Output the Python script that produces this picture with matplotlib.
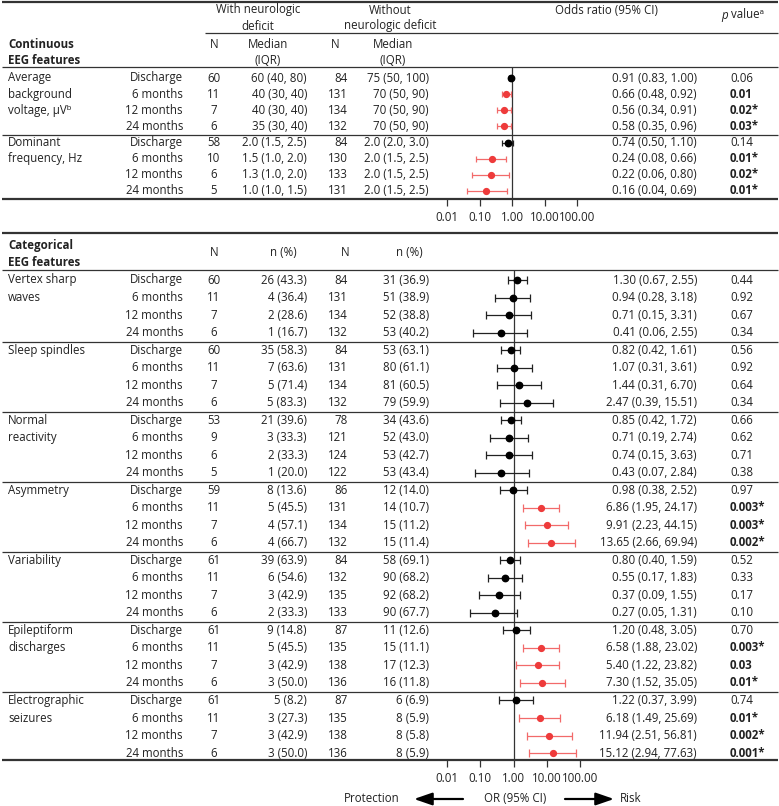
import matplotlib
matplotlib.use("Agg")
import matplotlib.pyplot as plt
import numpy as np

plt.rcParams['font.family'] = ['Open Sans', 'DejaVu Sans']
FS = 8.3
TXT = '#222222'
RED = '#EE3B3B'
RED_BAR = '#F26A6A'

# ---------------- data ----------------
time_labels = ["Discharge", "6 months", "12 months", "24 months"]

cont_features = [["Average", "background", "voltage, μVᵇ"], ["Dominant", "frequency, Hz"]]
cont_n_with = [[60, 11, 7, 6], [58, 10, 6, 5]]
cont_med_with = [["60 (40, 80)", "40 (30, 40)", "40 (30, 40)", "35 (30, 40)"],
                 ["2.0 (1.5, 2.5)", "1.5 (1.0, 2.0)", "1.3 (1.0, 2.0)", "1.0 (1.0, 1.5)"]]
cont_n_without = [[84, 131, 134, 132], [84, 130, 133, 131]]
cont_med_without = [["75 (50, 100)", "70 (50, 90)", "70 (50, 90)", "70 (50, 90)"],
                    ["2.0 (2.0, 3.0)", "2.0 (1.5, 2.5)", "2.0 (1.5, 2.5)", "2.0 (1.5, 2.5)"]]
cont_or = [[0.91, 0.66, 0.56, 0.58], [0.74, 0.24, 0.22, 0.16]]
cont_lo = [[0.83, 0.48, 0.34, 0.35], [0.50, 0.08, 0.06, 0.04]]
cont_hi = [[1.00, 0.92, 0.91, 0.96], [1.10, 0.66, 0.80, 0.69]]
cont_p = [["0.06", "0.01", "0.02*", "0.03*"], ["0.14", "0.01*", "0.02*", "0.01*"]]
cont_sig = [[False, True, True, True], [False, True, True, True]]

cat_features = [["Vertex sharp", "waves"], ["Sleep spindles"], ["Normal", "reactivity"],
                ["Asymmetry"], ["Variability"], ["Epileptiform", "discharges"],
                ["Electrographic", "seizures"]]
cat_n_with = [[60, 11, 7, 6], [60, 11, 7, 6], [53, 9, 6, 5], [59, 11, 7, 6],
              [61, 11, 7, 6], [61, 11, 7, 6], [61, 11, 7, 6]]
cat_pct_with = [["26 (43.3)", "4 (36.4)", "2 (28.6)", "1 (16.7)"],
                ["35 (58.3)", "7 (63.6)", "5 (71.4)", "5 (83.3)"],
                ["21 (39.6)", "3 (33.3)", "2 (33.3)", "1 (20.0)"],
                ["8 (13.6)", "5 (45.5)", "4 (57.1)", "4 (66.7)"],
                ["39 (63.9)", "6 (54.6)", "3 (42.9)", "2 (33.3)"],
                ["9 (14.8)", "5 (45.5)", "3 (42.9)", "3 (50.0)"],
                ["5 (8.2)", "3 (27.3)", "3 (42.9)", "3 (50.0)"]]
cat_n_without = [[84, 131, 134, 132], [84, 131, 134, 132], [78, 121, 124, 122],
                 [86, 131, 134, 132], [84, 132, 135, 133], [87, 135, 138, 136],
                 [87, 135, 138, 136]]
cat_pct_without = [["31 (36.9)", "51 (38.9)", "52 (38.8)", "53 (40.2)"],
                   ["53 (63.1)", "80 (61.1)", "81 (60.5)", "79 (59.9)"],
                   ["34 (43.6)", "52 (43.0)", "53 (42.7)", "53 (43.4)"],
                   ["12 (14.0)", "14 (10.7)", "15 (11.2)", "15 (11.4)"],
                   ["58 (69.1)", "90 (68.2)", "92 (68.2)", "90 (67.7)"],
                   ["11 (12.6)", "15 (11.1)", "17 (12.3)", "16 (11.8)"],
                   ["6 (6.9)", "8 (5.9)", "8 (5.8)", "8 (5.9)"]]
cat_or = [[1.30, 0.94, 0.71, 0.41], [0.82, 1.07, 1.44, 2.47], [0.85, 0.71, 0.74, 0.43],
          [0.98, 6.86, 9.91, 13.65], [0.80, 0.55, 0.37, 0.27], [1.20, 6.58, 5.40, 7.30],
          [1.22, 6.18, 11.94, 15.12]]
cat_lo = [[0.67, 0.28, 0.15, 0.06], [0.42, 0.31, 0.31, 0.39], [0.42, 0.19, 0.15, 0.07],
          [0.38, 1.95, 2.23, 2.66], [0.40, 0.17, 0.09, 0.05], [0.48, 1.88, 1.22, 1.52],
          [0.37, 1.49, 2.51, 2.94]]
cat_hi = [[2.55, 3.18, 3.31, 2.55], [1.61, 3.61, 6.70, 15.51], [1.72, 2.74, 3.63, 2.84],
          [2.52, 24.17, 44.15, 69.94], [1.59, 1.83, 1.55, 1.31], [3.05, 23.02, 23.82, 35.05],
          [3.99, 25.69, 56.81, 77.63]]
cat_p = [["0.44", "0.92", "0.67", "0.34"], ["0.56", "0.92", "0.64", "0.34"],
         ["0.66", "0.62", "0.71", "0.38"], ["0.97", "0.003*", "0.003*", "0.002*"],
         ["0.52", "0.33", "0.17", "0.10"], ["0.70", "0.003*", "0.03", "0.01*"],
         ["0.74", "0.01*", "0.002*", "0.001*"]]
cat_sig = [[False] * 4, [False] * 4, [False] * 4, [False, True, True, True],
           [False] * 4, [False, True, True, True], [False, True, True, True]]

tick_vals = [0.01, 0.1, 1, 10, 100]
tick_labels = ["0.01", "0.10", "1.00", "10.00", "100.00"]

# ---------------- layout (pixels) ----------------
W, H = 779, 806
fig = plt.figure(figsize=(W / 100, H / 100), dpi=100)
ax = fig.add_axes([0, 0, 1, 1])
ax.set_xlim(0, W)
ax.set_ylim(H, 0)
ax.axis('off')

X_LABEL = 8
X_TIME = 183
X_NW = 214
X_MW = 307
X_NWO = 348
X_MWO = 429
X_OR = 697
X_P = 730
LINE_C = '#333333'


def txt(x, y, s, ha='left', bold=False, size=FS, style='normal'):
    ax.text(x, y, s, ha=ha, va='center', fontsize=size, color=TXT,
            fontweight='bold' if bold else 'normal', fontstyle=style)


def hline(y, x0=2, x1=W - 1, lw=0.9):
    ax.plot([x0, x1], [y, y], color=LINE_C, lw=lw, solid_capstyle='butt')


# header
hline(2, lw=1.6)
txt(258, 10, "With neurologic", ha='center')
txt(258, 26, "deficit", ha='center')
txt(390, 10, "Without", ha='center')
txt(390, 26, "neurologic deficit", ha='center')
txt(606, 10, "Odds ratio (95% CI)", ha='center')
txt(728, 15, "p", ha='right', style='italic')
txt(728, 15, " valueᵃ")
hline(33, x0=205)

txt(X_LABEL, 44, "Continuous", bold=True)
txt(X_LABEL, 60, "EEG features", bold=True)
txt(X_NW, 44, "N", ha='center')
txt(268, 44, "Median", ha='center')
txt(268, 60, "(IQR)", ha='center')
txt(335, 44, "N", ha='center')
txt(393, 44, "Median", ha='center')
txt(393, 60, "(IQR)", ha='center')
hline(67)


def style_forest(fa, ytop, ybot):
    fa.set_xscale('log')
    fa.set_xlim(0.01, 100)
    fa.set_ylim(ybot, ytop)
    fa.axvline(1, color='#333333', lw=0.9, zorder=0)
    for sp in fa.spines.values():
        sp.set_visible(False)
    fa.set_yticks([])
    fa.set_xticks(tick_vals)
    fa.set_xticklabels(tick_labels)
    fa.minorticks_off()
    fa.tick_params(axis='x', direction='out', length=5, width=0.9, color='#333333',
                   pad=3.5, labelsize=FS, labelcolor=TXT)


# ---------- continuous section ----------
TOP0, ROW1 = 78, 16.14
fax1 = fig.add_axes([447 / W, 1 - 199 / H, 130 / W, (199 - 67) / H])
fax1.patch.set_alpha(0)

i = 0
for g in range(len(cont_features)):
    for r in range(4):
        y = TOP0 + i * ROW1
        if r < len(cont_features[g]):
            txt(X_LABEL, y, cont_features[g][r])
        txt(X_TIME, y, time_labels[r], ha='right')
        txt(X_NW, y, str(cont_n_with[g][r]), ha='center')
        txt(X_MW, y, cont_med_with[g][r], ha='right')
        txt(X_NWO, y, str(cont_n_without[g][r]), ha='right')
        txt(X_MWO, y, cont_med_without[g][r], ha='right')
        txt(X_OR, y, f"{cont_or[g][r]:.2f} ({cont_lo[g][r]:.2f}, {cont_hi[g][r]:.2f})", ha='right')
        txt(X_P, y, cont_p[g][r], bold=cont_sig[g][r])
        s = cont_sig[g][r]
        fax1.errorbar([cont_or[g][r]], [y],
                      xerr=[[cont_or[g][r] - cont_lo[g][r]], [cont_hi[g][r] - cont_or[g][r]]],
                      fmt='o', color=RED if s else 'black', ecolor=RED_BAR if s else '#222222',
                      ms=4.2 if s else 4.6, elinewidth=0.9, capsize=2.2, capthick=0.9)
        i += 1
    if g < len(cont_features) - 1:
        hline(TOP0 + (i - 1) * ROW1 + ROW1 / 2 + 0.5)
hline(199, lw=1.6)
style_forest(fax1, 67, 199)

# ---------- categorical section ----------
hline(233, lw=1.6)
txt(X_LABEL, 245, "Categorical", bold=True)
txt(X_LABEL, 262, "EEG features", bold=True)
txt(X_NW, 253, "N", ha='center')
txt(283, 253, "n (%)", ha='center')
txt(345, 253, "N", ha='center')
txt(409, 253, "n (%)", ha='center')
hline(270)

BOT0, ROW2 = 280, 17.52
fax2 = fig.add_axes([447 / W, 1 - 760 / H, 133 / W, (760 - 270) / H])
fax2.patch.set_alpha(0)

k = 0
for g in range(len(cat_features)):
    for r in range(4):
        y = BOT0 + k * ROW2
        if r < len(cat_features[g]):
            txt(X_LABEL, y, cat_features[g][r])
        txt(X_TIME, y, time_labels[r], ha='right')
        txt(X_NW, y, str(cat_n_with[g][r]), ha='center')
        txt(X_MW, y, cat_pct_with[g][r], ha='right')
        txt(X_NWO, y, str(cat_n_without[g][r]), ha='right')
        txt(X_MWO, y, cat_pct_without[g][r], ha='right')
        txt(X_OR, y, f"{cat_or[g][r]:.2f} ({cat_lo[g][r]:.2f}, {cat_hi[g][r]:.2f})", ha='right')
        txt(X_P, y, cat_p[g][r], bold=cat_sig[g][r])
        s = cat_sig[g][r]
        fax2.errorbar([cat_or[g][r]], [y],
                      xerr=[[cat_or[g][r] - cat_lo[g][r]], [cat_hi[g][r] - cat_or[g][r]]],
                      fmt='o', color=RED if s else 'black', ecolor=RED_BAR if s else '#222222',
                      ms=4.2 if s else 4.6, elinewidth=0.9, capsize=2.6, capthick=0.9)
        k += 1
    if g < len(cat_features) - 1:
        hline(BOT0 + (k - 1) * ROW2 + ROW2 / 2 + 0.5)
hline(760, lw=1.6)
style_forest(fax2, 270, 760)

# bottom legend
arrow_style = dict(arrowstyle='-|>,head_length=1.1,head_width=0.38', color='black', lw=1.6,
                   shrinkA=0, shrinkB=0)
txt(400, 799, "Protection", ha='right')
ax.annotate("", xy=(414, 799), xytext=(463, 799), arrowprops=arrow_style)
txt(515, 799, "OR (95% CI)", ha='center')
ax.annotate("", xy=(614, 799), xytext=(565, 799), arrowprops=arrow_style)
txt(620, 799, "Risk")

fig.savefig("out.png", dpi=100)
